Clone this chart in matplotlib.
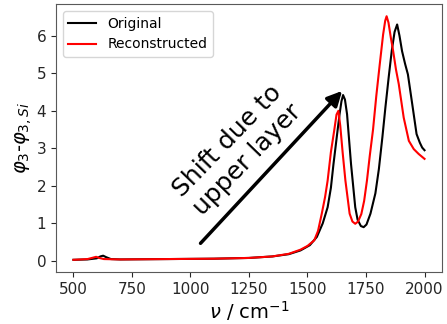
import matplotlib
matplotlib.use("Agg")
import matplotlib.pyplot as plt

# --- values ---
nu_orig = [500, 560, 600, 615, 627, 640, 660, 700, 900, 1100, 1250, 1350, 1420,
           1470, 1510, 1540, 1565, 1586, 1600, 1611, 1625, 1637, 1645, 1652, 1660,
           1669, 1686, 1704, 1714, 1728, 1740, 1752, 1769, 1790, 1805, 1820, 1833,
           1847, 1860, 1872, 1883, 1893, 1904, 1917, 1929, 1947, 1966, 1980, 1990, 2000]
phi_orig = [0.03, 0.04, 0.07, 0.12, 0.14, 0.10, 0.05, 0.04, 0.05, 0.06, 0.08, 0.12, 0.18,
            0.28, 0.42, 0.64, 1.00, 1.43, 1.95, 2.58, 3.30, 3.91, 4.25, 4.42, 4.30,
            3.91, 2.58, 1.43, 1.10, 0.93, 0.90, 0.97, 1.26, 1.80, 2.45, 3.30, 4.10,
            4.90, 5.60, 6.10, 6.30, 6.00, 5.59, 5.25, 4.97, 4.20, 3.38, 3.15, 3.02, 2.95]

nu_rec = [500, 560, 585, 597, 610, 630, 700, 900, 1100, 1250, 1350, 1420, 1470,
          1500, 1529, 1545, 1561, 1575, 1586, 1600, 1614, 1624, 1632, 1640, 1650,
          1662, 1680, 1692, 1704, 1716, 1730, 1742, 1754, 1766, 1780, 1794, 1808,
          1823, 1832, 1838, 1846, 1856, 1866, 1878, 1890, 1911, 1933, 1954, 1975, 2000]
phi_rec = [0.03, 0.05, 0.09, 0.11, 0.08, 0.05, 0.04, 0.05, 0.06, 0.08, 0.12, 0.19, 0.30,
           0.40, 0.55, 0.80, 1.26, 1.70, 2.14, 2.90, 3.47, 3.90, 4.00, 3.60, 2.90,
           2.14, 1.26, 1.05, 0.99, 1.05, 1.25, 1.60, 2.14, 2.80, 3.50, 4.40, 5.20,
           6.03, 6.40, 6.52, 6.35, 5.95, 5.59, 5.10, 4.71, 3.82, 3.20, 2.98, 2.85, 2.72]

arrow_tail = (1043, 0.47)
arrow_head = (1648, 4.53)

fig = plt.figure(figsize=(4.47, 3.24), dpi=100)
ax = fig.add_axes([0.125, 0.1605, 0.864, 0.827])

ax.plot(nu_orig, phi_orig, color="black", lw=1.5, label="Original")
ax.plot(nu_rec, phi_rec, color="red", lw=1.5, label="Reconstructed")

ax.annotate("", xy=arrow_head, xytext=arrow_tail,
            arrowprops=dict(arrowstyle="-|>", color="black", lw=2.5,
                            mutation_scale=22, shrinkA=0, shrinkB=0))
ax.text(1199, 2.94, "Shift due to\nupper layer", rotation=46, fontsize=18,
        ha="center", va="center", rotation_mode="anchor", multialignment="center")

ax.set_xticks([500, 750, 1000, 1250, 1500, 1750, 2000])
ax.set_yticks([0, 1, 2, 3, 4, 5, 6])
ax.tick_params(labelsize=11, colors="0.15")
ax.set_xlabel(r"$\nu$ / cm$^{-1}$", fontsize=14, labelpad=2)
ax.set_ylabel(r"$\varphi_3$-$\varphi_{3,Si}$", fontsize=14, labelpad=2)
for s in ax.spines.values():
    s.set_color("0.35")
ax.legend(loc="upper left", fontsize=10)

fig.savefig("out.png", dpi=100)
